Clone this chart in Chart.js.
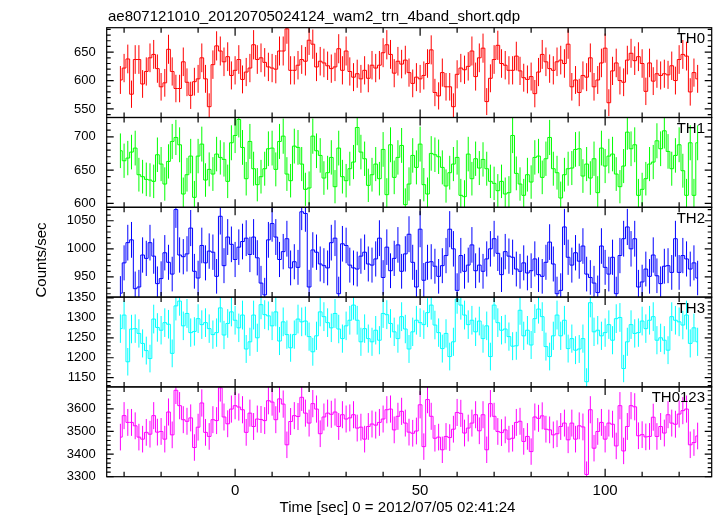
<!DOCTYPE html>
<html>
<head>
<meta charset="utf-8">
<title>ae807121010 WAM light curves</title>
<script src="https://cdn.jsdelivr.net/npm/chart.js@4.4.1/dist/chart.umd.min.js"></script>
<style>
  html, body { margin: 0; padding: 0; background: #fff; }
  #wrap { position: relative; width: 717px; height: 516px; }
</style>
</head>
<body>
<div id="wrap"><canvas id="lc" width="717" height="516"></canvas></div>
<script>
// 1 s bins, first bin centred at -31 s
const binStart = -31;
const binWidth = 1;

const th0 = [
  601, 622, 638, 576, 637, 637, 594, 616, 640, 646,
  621, 589, 596, 655, 616, 586, 586, 633, 597, 574,
  598, 603, 640, 603, 554, 628, 661, 652, 633, 642,
  609, 618, 637, 602, 615, 622, 663, 637, 640, 632,
  624, 622, 620, 652, 652, 691, 618, 618, 627, 637,
  634, 671, 664, 624, 634, 631, 626, 621, 624, 656,
  618, 652, 616, 606, 612, 603, 618, 604, 627, 622,
  627, 649, 663, 646, 613, 634, 629, 636,
  614, 595, 606, 603, 609, 630, 654, 579, 573, 614,
  589, 589, 554, 611, 622, 619, 625, 652, 607, 640,
  657, 563, 604, 637, 662, 630, 627, 618, 618, 643,
  617, 605, 602, 607, 577, 615, 646, 633, 621, 618,
  633, 636, 630, 664, 589, 601, 579, 609, 606, 640,
  589, 601, 631, 657, 561, 617, 631, 600, 597, 636,
  648, 635, 642, 630, 581, 631, 599, 612, 609, 612,
  610, 626, 600, 637, 646, 643, 580, 614, 603
];
const th1 = [
  679, 664, 668, 677, 683, 643, 640, 636, 635, 633,
  673, 659, 629, 663, 693, 699, 688, 614, 643, 671,
  609, 671, 689, 635, 651, 644, 674, 669, 666, 633,
  691, 702, 726, 684, 637, 693, 652, 628, 640, 652,
  682, 683, 651, 693, 701, 644, 634, 686, 684, 659,
  621, 623, 701, 679, 672, 638, 646, 669, 625, 683,
  640, 634, 652, 662, 714, 677, 667, 627, 643, 659,
  637, 681, 613, 688, 639, 669, 687, 598, 629,
  672, 654, 689, 628, 614, 675, 673, 670, 654, 626,
  646, 659, 669, 612, 610, 674, 637, 667, 653, 666,
  652, 633, 630, 619, 633, 614, 616, 702, 645, 629,
  612, 643, 632, 669, 671, 639, 667, 699, 652, 646,
  608, 643, 652, 653, 681, 682, 641, 659, 638, 667,
  616, 683, 656, 671, 674, 644, 625, 656, 707, 682,
  688, 612, 621, 637, 659, 662, 694, 682, 709, 678,
  652, 672, 688, 649, 612, 691, 612, 691
];
const th2 = [
  921, 975, 1011, 1016, 929, 932, 989, 983, 1011, 987,
  938, 947, 993, 976, 955, 1070, 989, 986, 991, 1037,
  960, 948, 1006, 975, 996, 994, 951, 1058, 970, 1021,
  1008, 981, 1003, 1013, 1019, 990, 1021, 984, 939, 918,
  1016, 1045, 1021, 981, 995, 1018, 966, 977, 967, 1066,
  1063, 932, 998, 994, 973, 970, 966, 1011, 1019, 920,
  1009, 1006, 971, 966, 964, 987, 994, 973, 971, 982,
  1019, 949, 1003, 961, 983, 1007, 960, 991, 1026,
  976, 932, 1035, 944, 976, 977, 969, 951, 970, 988,
  1035, 1000, 926, 988, 960, 971, 1007, 961, 971, 960,
  982, 1000, 1018, 992, 954, 995, 987, 985, 964, 960,
  975, 957, 961, 982, 954, 951, 976, 1012, 973, 920,
  926, 1039, 985, 971, 993, 978, 1005, 955, 949, 939,
  922, 1005, 967, 955, 985, 920, 988, 1018, 1039, 1000,
  1018, 932, 941, 964, 951, 989, 952, 938, 969, 970,
  958, 1018, 958, 988, 982, 964, 975, 948
];
const th3 = [
  1273, 1307, 1190, 1272, 1273, 1261, 1236, 1218, 1198, 1297,
  1276, 1269, 1288, 1284, 1211, 1330, 1342, 1280, 1311, 1263,
  1266, 1298, 1283, 1288, 1273, 1258, 1263, 1325, 1257, 1286,
  1315, 1294, 1275, 1307, 1222, 1240, 1307, 1250, 1333, 1308,
  1305, 1280, 1315, 1242, 1290, 1258, 1225, 1258, 1297, 1290,
  1292, 1253, 1215, 1255, 1315, 1303, 1288, 1275, 1311, 1272,
  1248, 1280, 1294, 1332, 1294, 1240, 1273, 1248, 1240, 1269,
  1244, 1311, 1308, 1286, 1265, 1248, 1303, 1272, 1222,
  1265, 1294, 1288, 1283, 1313, 1332, 1282, 1263, 1223, 1261,
  1203, 1240, 1347, 1332, 1307, 1283, 1294, 1265, 1292, 1248,
  1280, 1203, 1332, 1288, 1269, 1272, 1253, 1229, 1230, 1319,
  1255, 1269, 1232, 1298, 1322, 1303, 1228, 1203, 1255, 1307,
  1255, 1294, 1223, 1248, 1219, 1222, 1248, 1140, 1338, 1265,
  1269, 1255, 1263, 1283, 1244, 1298, 1301, 1173, 1240, 1283,
  1261, 1263, 1292, 1273, 1294, 1303, 1244, 1250, 1244, 1219,
  1303, 1294, 1290, 1282, 1307, 1236, 1275, 1240
];
const th0123 = [
  3475, 3570, 3540, 3540, 3525, 3475, 3466, 3496, 3488, 3570,
  3497, 3500, 3466, 3586, 3485, 3682, 3614, 3552, 3545, 3560,
  3429, 3519, 3626, 3496, 3478, 3552, 3548, 3693, 3564, 3534,
  3599, 3614, 3608, 3596, 3496, 3581, 3522, 3555, 3553, 3548,
  3636, 3630, 3552, 3644, 3621, 3441, 3544, 3570, 3566, 3651,
  3581, 3537, 3623, 3599, 3490, 3564, 3581, 3576, 3586, 3522,
  3574, 3555, 3560, 3574, 3515,
  3519, 3466, 3522, 3533, 3528, 3540, 3555, 3596, 3599, 3507,
  3567, 3589, 3537, 3497, 3492, 3502, 3618, 3433, 3641, 3567,
  3470, 3475, 3419, 3478, 3473, 3510, 3584, 3580, 3493, 3515,
  3537, 3574, 3503, 3574, 3419, 3623, 3567, 3500, 3495, 3507,
  3466, 3470, 3540, 3545, 3456, 3478, 3411, 3564, 3558, 3569,
  3510, 3507, 3485, 3490, 3522, 3537, 3463, 3537, 3466, 3525,
  3520, 3310, 3596, 3426, 3500, 3540, 3466, 3537, 3532, 3436,
  3614, 3414, 3522, 3614, 3609, 3481, 3486, 3476, 3478, 3563,
  3478, 3522, 3493, 3574, 3537, 3532, 3577, 3592, 3599, 3441,
  3451, 3480
];

const series = [th0, th1, th2, th3, th0123];
const panelNames = ['TH0', 'TH1', 'TH2', 'TH3', 'TH0123'];
const panelColors = ['#ff0000', '#00ff00', '#0000ff', '#00ffff', '#ff00ff'];
const panelMin = [535, 594, 914, 1127, 3300];
const panelMax = [693, 729, 1074, 1352, 3697];
const panelStep = [50, 50, 50, 50, 100];
const panelMinor = [10, 10, 10, 10, 20];
const timeMin = -34.7;
const timeMax = 128.8;
const timeStep = 50;
const timeMinor = 10;

const plotTitle = 'ae807121010_20120705024124_wam2_trn_4band_short.qdp';
const xTitle = 'Time [sec] 0 = 2012/07/05 02:41:24';
const yTitle = 'Counts/sec';

const FONT = '"Liberation Sans", Arial, Helvetica, sans-serif';
Chart.defaults.font.family = FONT;
Chart.defaults.color = '#000';

// multiples of step inside [min, max]
function stepTicks(min, max, step) {
    const out = [];
    for (let v = Math.ceil(min / step) * step; v <= max; v += step) out.push(v);
    return out;
}

// error bars, panel frames, inward ticks and labels (QDP style)
const qdpPlugin = {
    id: 'qdp',
    afterDatasetsDraw(chart) {
        const ctx = chart.ctx;
        const area = chart.chartArea;
        const xs = chart.scales.x;
        chart.data.datasets.forEach((ds, k) => {
            const ys = chart.scales['y' + k];
            ctx.save();
            ctx.beginPath();
            ctx.rect(area.left, ys.top, area.right - area.left, ys.bottom - ys.top);
            ctx.clip();
            ctx.strokeStyle = panelColors[k];
            ctx.lineWidth = 1;
            ctx.beginPath();
            ds.data.forEach(p => {
                // Poisson error for a 1 s bin
                const err = Math.sqrt(p.y * binWidth) / binWidth;
                const px = xs.getPixelForValue(p.x);
                ctx.moveTo(px, ys.getPixelForValue(p.y + err));
                ctx.lineTo(px, ys.getPixelForValue(p.y - err));
            });
            ctx.stroke();
            ctx.restore();
        });
    },
    afterDraw(chart) {
        const ctx = chart.ctx;
        const area = chart.chartArea;
        const xs = chart.scales.x;
        ctx.save();
        ctx.strokeStyle = '#000';
        ctx.lineWidth = 1.2;
        series.forEach((d, k) => {
            const ys = chart.scales['y' + k];
            ctx.strokeRect(area.left, ys.top, area.right - area.left, ys.bottom - ys.top);
            ctx.beginPath();
            stepTicks(ys.min, ys.max, panelMinor[k]).forEach(v => {
                const len = v % panelStep[k] === 0 ? 7 : 4;
                const py = ys.getPixelForValue(v);
                ctx.moveTo(area.left, py);
                ctx.lineTo(area.left + len, py);
                ctx.moveTo(area.right, py);
                ctx.lineTo(area.right - len, py);
            });
            stepTicks(xs.min, xs.max, timeMinor).forEach(t => {
                const len = t % timeStep === 0 ? 8 : 5;
                const px = xs.getPixelForValue(t);
                ctx.moveTo(px, ys.top);
                ctx.lineTo(px, ys.top + len);
                ctx.moveTo(px, ys.bottom);
                ctx.lineTo(px, ys.bottom - len);
            });
            ctx.stroke();
        });

        ctx.fillStyle = '#000';
        ctx.font = '15px ' + FONT;
        ctx.textBaseline = 'alphabetic';
        ctx.textAlign = 'left';
        ctx.fillText(plotTitle, 108, 20.7);
        ctx.textAlign = 'right';
        series.forEach((d, k) => {
            ctx.fillText(panelNames[k], 705, chart.scales['y' + k].top + 15.5);
        });
        ctx.textAlign = 'center';
        ctx.fillText(xTitle, 397.5, 511.7);
        ctx.translate(46, 260);
        ctx.rotate(-Math.PI / 2);
        ctx.fillText(yTitle, 0, 0);
        ctx.restore();
    }
};

const scales = {
    x: {
        type: 'linear',
        position: 'bottom',
        min: timeMin,
        max: timeMax,
        grid: { display: false, drawTicks: false },
        border: { display: false },
        ticks: { stepSize: timeStep, includeBounds: false, padding: 5, maxRotation: 0, font: { size: 15 },
                 callback: v => String(v) },
        afterFit: s => { s.height = 39.3; }
    }
};
series.forEach((d, k) => {
    scales['y' + k] = {
        type: 'linear',
        position: 'left',
        stack: 'panels',
        stackWeight: 1,
        weight: 5 - k,
        min: panelMin[k],
        max: panelMax[k],
        grid: { display: false, drawTicks: false },
        border: { display: false },
        ticks: { autoSkip: false, padding: 11, font: { size: 13 }, callback: v => String(v) },
        afterBuildTicks: s => {
            s.ticks = stepTicks(panelMin[k], panelMax[k], panelStep[k]).map(v => ({ value: v }));
        },
        afterFit: s => { s.width = 106.7; }
    };
});

const datasets = series.map((d, k) => ({
    label: panelNames[k],
    data: d.map((v, i) => ({ x: binStart + i * binWidth, y: v })),
    xAxisID: 'x',
    yAxisID: 'y' + k,
    borderColor: panelColors[k],
    borderWidth: 1,
    pointRadius: 0,
    stepped: 'middle',
    fill: false
}));

new Chart(document.getElementById('lc'), {
    type: 'line',
    data: { datasets },
    options: {
        responsive: false,
        animation: false,
        events: [],
        layout: { padding: { top: 27.7, right: 5.3, left: 0, bottom: 0 } },
        plugins: { legend: { display: false }, tooltip: { enabled: false } },
        scales
    },
    plugins: [qdpPlugin]
});
</script>
</body>
</html>
